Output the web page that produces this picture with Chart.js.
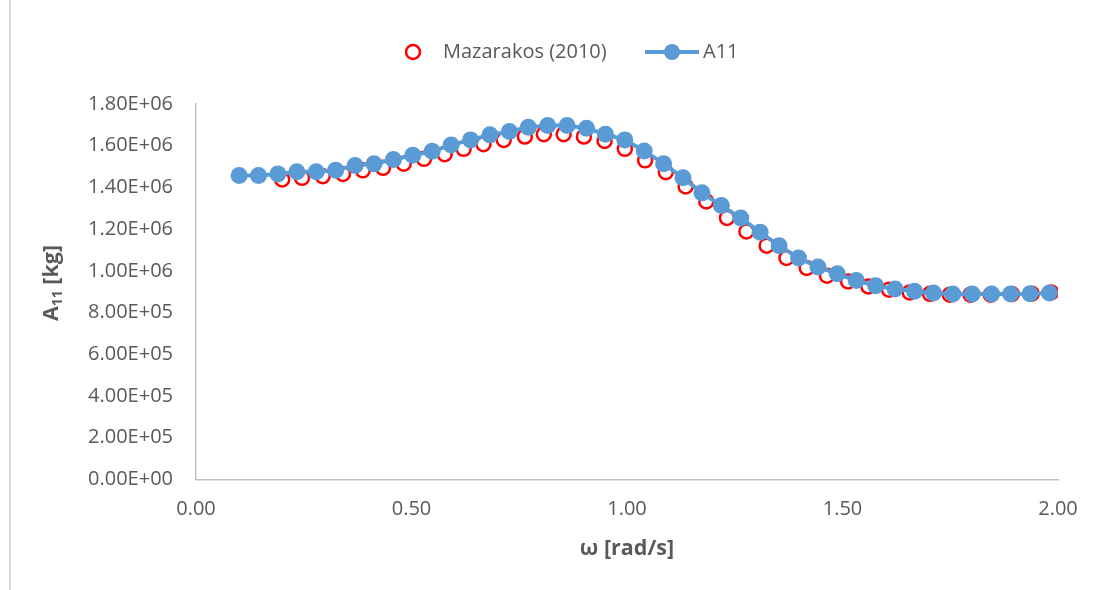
<!DOCTYPE html>
<html>
<head>
<meta charset="utf-8">
<script src="https://cdn.jsdelivr.net/npm/chart.js@4/dist/chart.umd.min.js"></script>
<style>
  html, body { margin: 0; padding: 0; background: #ffffff; }
  #wrap { position: relative; width: 1097px; height: 590px; }
  #wrap canvas { position: absolute; left: 0; top: 0; }
  #frame { position: absolute; left: 9px; top: 0; width: 0; height: 590px; border-left: 2px solid #d9d9d9; }
</style>
</head>
<body>
<div id="wrap">
  <canvas id="chart" width="1097" height="590"></canvas>
  <div id="frame"></div>
</div>
<script>
// Reference values, Mazarakos (2010): frequency [rad/s] and added mass A11 [kg]
const omegaRef = [0.200, 0.246, 0.294, 0.341, 0.387, 0.434, 0.482, 0.529, 0.577, 0.621,
                  0.667, 0.714, 0.763, 0.807, 0.853, 0.900, 0.948, 0.995, 1.042, 1.090,
                  1.136, 1.184, 1.232, 1.277, 1.324, 1.370, 1.417, 1.464, 1.513, 1.560,
                  1.608, 1.656, 1.703, 1.749, 1.797, 1.844, 1.893, 1.939, 1.984];
const a11Ref = [1.438e6, 1.446e6, 1.454e6, 1.465e6, 1.482e6, 1.494e6, 1.514e6, 1.537e6, 1.559e6, 1.585e6,
                1.607e6, 1.628e6, 1.644e6, 1.655e6, 1.655e6, 1.644e6, 1.623e6, 1.585e6, 1.530e6, 1.473e6,
                1.405e6, 1.333e6, 1.254e6, 1.189e6, 1.121e6, 1.062e6, 1.014e6, 0.977e6, 0.949e6, 0.925e6,
                0.910e6, 0.897e6, 0.890e6, 0.886e6, 0.886e6, 0.886e6, 0.889e6, 0.891e6, 0.897e6];

// Computed A11 curve
const omegaCalc = [0.100, 0.145, 0.190, 0.234, 0.279, 0.324, 0.369, 0.413, 0.458, 0.503,
                   0.548, 0.592, 0.637, 0.682, 0.727, 0.771, 0.816, 0.861, 0.906, 0.950,
                   0.995, 1.040, 1.085, 1.130, 1.174, 1.219, 1.264, 1.309, 1.353, 1.398,
                   1.443, 1.488, 1.532, 1.577, 1.622, 1.667, 1.711, 1.756, 1.801, 1.846,
                   1.890, 1.935, 1.980];
const a11Calc = [1.457e6, 1.457e6, 1.465e6, 1.475e6, 1.475e6, 1.482e6, 1.505e6, 1.513e6, 1.534e6, 1.554e6,
                 1.573e6, 1.604e6, 1.628e6, 1.652e6, 1.668e6, 1.689e6, 1.697e6, 1.697e6, 1.684e6, 1.655e6,
                 1.628e6, 1.575e6, 1.514e6, 1.446e6, 1.374e6, 1.313e6, 1.254e6, 1.185e6, 1.121e6, 1.062e6,
                 1.019e6, 0.986e6, 0.954e6, 0.929e6, 0.913e6, 0.902e6, 0.894e6, 0.889e6, 0.889e6, 0.889e6,
                 0.889e6, 0.890e6, 0.894e6];

// Axis ranges and labels
const xMin = 0, xMax = 2, xStep = 0.5;
const yMin = 0, yMax = 1.8e6, yStep = 2e5;
const seriesNames = ['Mazarakos (2010)', 'A11'];
const xTitle = 'ω [rad/s]';
const yTitleParts = ['A', '11', ' [kg]'];

const FONT = "'Open Sans', 'DejaVu Sans', sans-serif";
const TEXT = '#595959';
const AXIS = '#bfbfbf';
const RED = '#ff0000';
const BLUE = '#5b9bd5';

function toPoints(xs, ys) { return xs.map((x, i) => ({ x: x, y: ys[i] })); }

// Excel-style scientific label, e.g. 1.80E+06
function sciLabel(v) {
  const parts = Number(v).toExponential(2).split('e');
  const exp = parseInt(parts[1], 10);
  const sign = exp < 0 ? '-' : '+';
  return parts[0] + 'E' + sign + String(Math.abs(exp)).padStart(2, '0');
}

// Legend and axis titles drawn on the canvas
const decorations = {
  id: 'decorations',
  afterDraw(chart) {
    const ctx = chart.ctx;
    const area = chart.chartArea;
    ctx.save();

    // legend
    const ly = 52;
    ctx.font = '20px ' + FONT;
    ctx.fillStyle = TEXT;
    ctx.textBaseline = 'middle';
    ctx.textAlign = 'left';
    ctx.lineWidth = 2.5;
    ctx.strokeStyle = RED;
    ctx.beginPath();
    ctx.arc(413, ly, 7, 0, Math.PI * 2);
    ctx.stroke();
    ctx.fillText(seriesNames[0], 443, ly);

    ctx.strokeStyle = BLUE;
    ctx.lineWidth = 4;
    ctx.beginPath();
    ctx.moveTo(645, ly);
    ctx.lineTo(699, ly);
    ctx.stroke();
    ctx.fillStyle = BLUE;
    ctx.beginPath();
    ctx.arc(672, ly, 8, 0, Math.PI * 2);
    ctx.fill();
    ctx.fillStyle = TEXT;
    ctx.fillText(seriesNames[1], 703, ly);

    // x-axis title
    ctx.font = 'bold 21.5px ' + FONT;
    ctx.textAlign = 'center';
    ctx.fillText(xTitle, (area.left + area.right) / 2, 549);

    // y-axis title with subscript
    const big = 'bold 21.5px ' + FONT;
    const small = 'bold 14px ' + FONT;
    ctx.font = big; const w0 = ctx.measureText(yTitleParts[0]).width;
    ctx.font = small; const w1 = ctx.measureText(yTitleParts[1]).width;
    ctx.font = big; const w2 = ctx.measureText(yTitleParts[2]).width;
    const total = w0 + w1 + w2;
    ctx.translate(50, 283);
    ctx.rotate(-Math.PI / 2);
    ctx.textAlign = 'left';
    ctx.textBaseline = 'alphabetic';
    let x = -total / 2;
    ctx.font = big; ctx.fillText(yTitleParts[0], x, 8); x += w0;
    ctx.font = small; ctx.fillText(yTitleParts[1], x, 12); x += w1;
    ctx.font = big; ctx.fillText(yTitleParts[2], x, 8);

    ctx.restore();
  }
};

new Chart(document.getElementById('chart'), {
  type: 'scatter',
  data: {
    datasets: [
      {
        label: seriesNames[0],
        data: toPoints(omegaRef, a11Ref),
        showLine: false,
        pointStyle: 'circle',
        pointRadius: 7,
        pointHoverRadius: 7,
        pointBorderWidth: 2.5,
        pointBorderColor: RED,
        pointBackgroundColor: 'rgba(255,255,255,0)',
        order: 2
      },
      {
        label: seriesNames[1],
        data: toPoints(omegaCalc, a11Calc),
        showLine: true,
        borderColor: BLUE,
        borderWidth: 4,
        tension: 0,
        pointStyle: 'circle',
        pointRadius: 8.5,
        pointHoverRadius: 8.5,
        pointBorderWidth: 0,
        pointBackgroundColor: BLUE,
        order: 1
      }
    ]
  },
  options: {
    responsive: false,
    animation: false,
    events: [],
    layout: { padding: { left: 0, right: 39, top: 104, bottom: 0 } },
    plugins: {
      legend: { display: false },
      tooltip: { enabled: false },
      title: { display: false }
    },
    scales: {
      x: {
        type: 'linear',
        min: xMin, max: xMax,
        grid: { display: false, drawTicks: false },
        border: { display: true, color: AXIS, width: 1.5 },
        ticks: {
          stepSize: xStep,
          padding: 18,
          color: TEXT,
          font: { family: FONT, size: 20 },
          maxRotation: 0,
          callback: (v) => Number(v).toFixed(2)
        },
        afterFit: (s) => { s.height = 110.5; }
      },
      y: {
        type: 'linear',
        min: yMin, max: yMax,
        grid: { display: false, drawTicks: false },
        border: { display: true, color: AXIS, width: 1.5 },
        ticks: {
          stepSize: yStep,
          padding: 23,
          color: TEXT,
          font: { family: FONT, size: 20 },
          callback: (v) => sciLabel(v)
        },
        afterFit: (s) => { s.width = 196; }
      }
    }
  },
  plugins: [decorations]
});
</script>
</body>
</html>
